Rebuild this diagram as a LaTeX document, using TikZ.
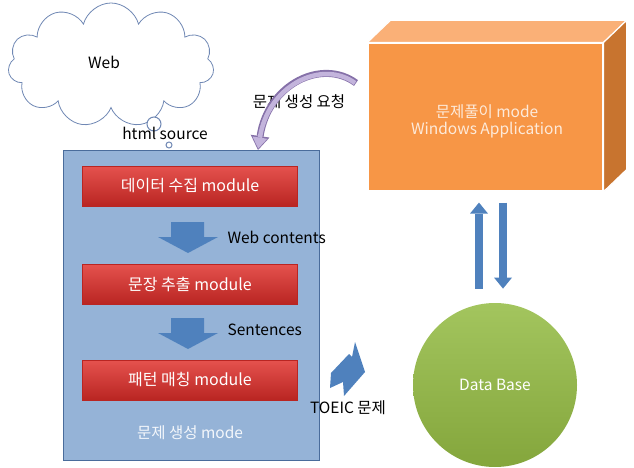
\documentclass[tikz,border=0pt]{standalone}
\usepackage{fontspec}
\setmainfont{Noto Sans CJK KR}
\usetikzlibrary{shapes.symbols,arrows.meta}

\definecolor{cloudline}{HTML}{7088B4}
\definecolor{genfill}{HTML}{95B3D7}
\definecolor{genline}{HTML}{4A6C9B}
\definecolor{modtop}{HTML}{E5524E}
\definecolor{modbot}{HTML}{B92522}
\definecolor{blockblue}{HTML}{4F81BD}
\definecolor{appfront}{HTML}{F79646}
\definecolor{apptop}{HTML}{FAB077}
\definecolor{appside}{HTML}{C8742F}
\definecolor{dbtop}{HTML}{A3C55E}
\definecolor{dbbot}{HTML}{84A63C}
\definecolor{reqfill}{HTML}{C3B4DC}
\definecolor{reqline}{HTML}{8570A8}

\begin{document}
\begin{tikzpicture}[x=1pt,y=-1pt,font=\fontsize{15.5}{17}\selectfont,
    module/.style={top color=modtop, bottom color=modbot, draw=modbot,
      text=white, font=\fontsize{16}{18}\selectfont,
      minimum width=215pt, minimum height=40pt},
    bubble/.style={circle, draw=cloudline, line width=1pt, fill=white, inner sep=0pt},
    dbarrow/.style={blockblue, line width=8pt,
      -{Triangle[width=18pt,length=11pt,line width=0pt]}}]
  \useasboundingbox (0,0) rectangle (634,468);

  \node[cloud, cloud puffs=11, aspect=1.8, draw=cloudline, line width=0.8pt, fill=white,
    minimum width=206pt, minimum height=124pt] (web) at (111,65) {};
  \node (weblbl) at (104,62) {Web};
  \node[bubble, minimum size=14pt] (bub1) at (154,124) {};
  \node[bubble, minimum size=6pt] (bub2) at (169,145) {};
  \node (html) at (165,133) {html source};

  \node[fill=genfill, draw=genline, minimum width=256pt, minimum height=310pt] (gen) at (191,305) {};
  \node[module] (collect) at (190,186) {데이터 수집 module};
  \node[module] (extract) at (190,284) {문장 추출 module};
  \node[module] (match) at (190,380) {패턴 매칭 module};
  \node[text=white!90!genfill] (genlbl) at (190,433) {문제 생성 mode};

  \foreach \y in {222,318}
    \fill[blockblue] (171,\y) -- (204,\y) -- (204,\y+15) -- (218,\y+15)
      -- (188,\y+31) -- (158,\y+15) -- (171,\y+15) -- cycle;
  \node[anchor=west] (webcont) at (224,237) {Web contents};
  \node[anchor=west] (sent) at (224,330) {Sentences};

  \fill[blockblue] (331,373) -- (349,354) -- (352,357) -- (355,342)
    -- (365,372) -- (344,396) -- (343,382) -- (330,388) -- cycle;
  \node (toeic) at (348,408) {TOEIC 문제};

  \node[fill=appfront, draw=white, line width=1.2pt,
    minimum width=235pt, minimum height=148pt] (app) at (485.5,117) {};
  \filldraw[fill=apptop, draw=white, line width=1.2pt] (app.north west) -- ++(23,-22)
    -- ([shift={(23,-22)}]app.north east) -- (app.north east) -- cycle;
  \filldraw[fill=appside, draw=white, line width=1.2pt] (app.north east) -- ++(23,-22)
    -- ([shift={(23,-22)}]app.south east) -- (app.south east) -- cycle;
  \node[text=white!80!appfront, align=center] (applbl) at (487,121)
    {문제풀이 mode\\Windows Application};

  \draw[dbarrow] ([xshift=-6.5pt,yshift=-97pt]app.south) -- ([xshift=-6.5pt,yshift=-11pt]app.south);
  \draw[dbarrow] ([xshift=17.5pt,yshift=-11pt]app.south) -- ([xshift=17.5pt,yshift=-97pt]app.south);

  \node[circle, inner sep=0, minimum size=164pt, top color=dbtop, bottom color=dbbot,
    text=white] (db) at (495,385) {Data Base};

  \node (req) at (299,102) {문제 생성 요청};
  \draw[reqline, line width=7pt, -{Triangle[width=19pt,length=14pt,line width=0pt]}]
    (356,83) .. controls (322,58) and (268,84) .. (258,150);
  \draw[reqfill, line width=4.5pt, shorten >=1.5pt,
    -{Triangle[width=15pt,length=11pt,line width=0pt]}]
    (355,83) .. controls (322,59) and (268,85) .. (258,150);
\end{tikzpicture}
\end{document}
